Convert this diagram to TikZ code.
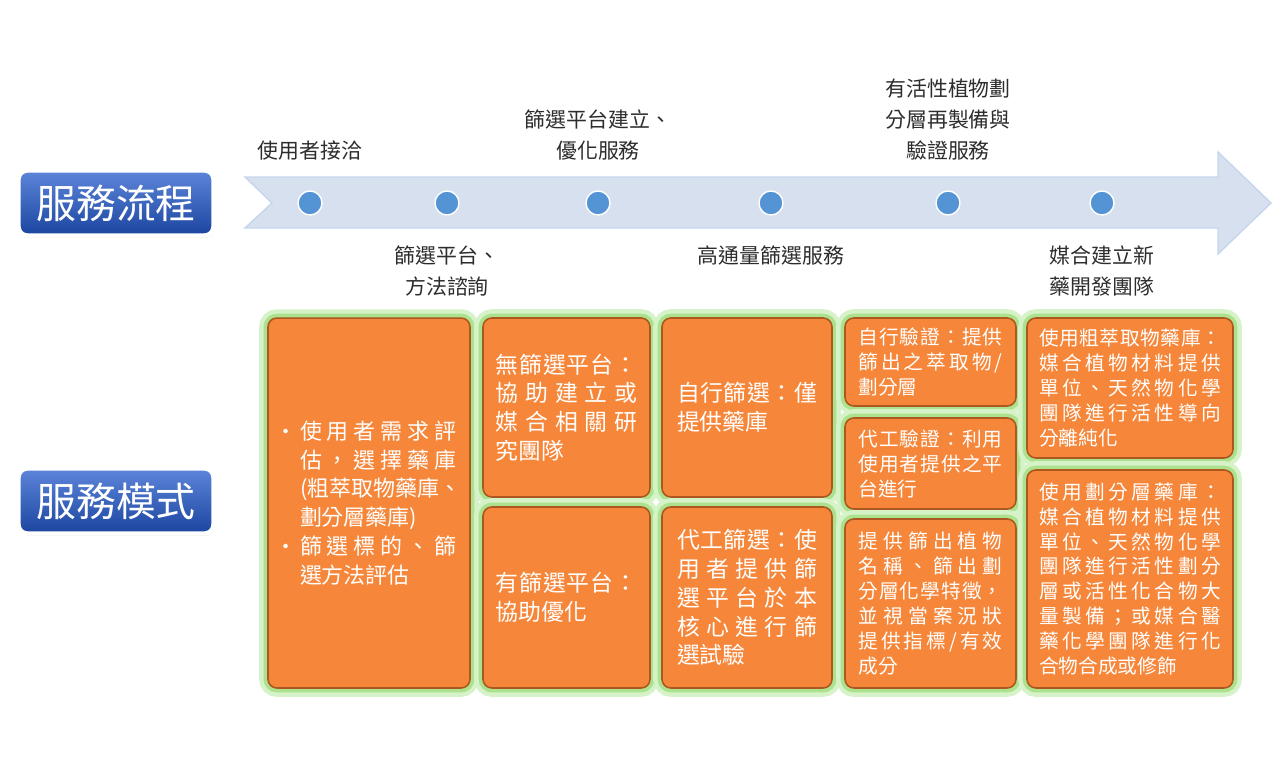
\documentclass[tikz,border=0pt]{standalone}
\usepackage{fontspec}
\setmainfont{Noto Sans CJK TC}
\usetikzlibrary{positioning, shadows}
\definecolor{labeltop}{RGB}{92,134,218}
\definecolor{labelbot}{RGB}{28,68,160}
\definecolor{arrowfill}{RGB}{214,224,239}
\definecolor{arrowedge}{RGB}{198,213,236}
\definecolor{dotblue}{RGB}{84,148,213}
\definecolor{boxorange}{RGB}{246,135,58}
\definecolor{boxedge}{RGB}{172,86,32}
\definecolor{glowgreen}{RGB}{172,226,142}
\definecolor{glowlight}{RGB}{214,242,200}
\definecolor{textgray}{RGB}{45,45,45}
% one line spread over the given width
\def\jstep#1{\ifx\relax#1\else#1\hfil\expandafter\jstep\fi}
\newcommand\jl[2][\hsize]{\leavevmode\hbox to #1{\jstep#2\relax\unskip}}
\newcommand\bul{\makebox[0.36cm][l]{\hspace*{-0.14cm}\large\textbullet}}
\tikzset{
  labelbox/.style = {rectangle, rounded corners=5pt, top color=labeltop, bottom color=labelbot,
                     draw=white, line width=2.5pt, text=white, minimum width=3.9cm,
                     minimum height=1.3cm, font=\fontsize{22.7}{26}\selectfont,
                     drop shadow={opacity=0.3, shadow xshift=0.6pt, shadow yshift=-1.2pt}},
  flowdot/.style  = {circle, fill=dotblue, draw=white, line width=0.8pt,
                     minimum size=0.48cm, inner sep=0pt},
  flowtext/.style = {align=center, inner sep=0pt, text=textgray,
                     font=\fontsize{11.9}{17.6}\selectfont},
  modebox/.style  = {rectangle, rounded corners=5pt, fill=boxorange, draw=boxedge,
                     line width=0.9pt, text=white, inner sep=0pt, align=left,
                     preaction={draw=glowlight, line width=10pt},
                     preaction={draw=glowgreen, line width=5pt}},
  bigtxt/.style   = {font=\fontsize{13}{16.4}\selectfont},
  smalltxt/.style = {font=\fontsize{11.2}{14.2}\selectfont}
}
\begin{document}
\begin{tikzpicture}[x=0.02cm, y=-0.02cm, node distance=0.6cm]
\useasboundingbox (0,0) rectangle (1281,758);
% process arrow
\path[fill=arrowfill, draw=arrowedge, line width=0.8pt]
  (245,177) -- (1218,177) -- (1218,152) -- (1271,203) -- (1218,254)
  -- (1218,228) -- (245,228) -- (272,203) -- cycle;

\node[labelbox] (flow) at (116,203) {服務流程};
\node[labelbox] (mode) at (116,501) {服務模式};

\node[flowdot] (d1) at (310,203) {};
\node[flowdot] (d2) at (447,203) {};
\node[flowdot] (d3) at (598,203) {};
\node[flowdot] (d4) at (771,203) {};
\node[flowdot] (d5) at (948,203) {};
\node[flowdot] (d6) at (1102,203) {};

\node[flowtext, above=of d1] (s1) {使用者接洽};
\node[flowtext, below=of d2] (s2) {篩選平台、\\方法諮詢};
\node[flowtext, above=of d3] (s3) {篩選平台建立、\\優化服務};
\node[flowtext, below=of d4] (s4) {高通量篩選服務};
\node[flowtext, above=of d5] (s5) {有活性植物劃\\分層再製備與\\驗證服務};
\node[flowtext, below=of d6] (s6) {媒合建立新\\藥開發團隊};

% service modes
\node[modebox, font=\fontsize{12.5}{16.4}\selectfont, text width=3.48cm,
      minimum width=4.04cm, minimum height=7.4cm] (m1) at (369,503) {%
  \bul\jl[3.12cm]{使用者需求評}\\
  \hspace*{0.36cm}\jl[3.12cm]{估，選擇藥庫}\\
  \hspace*{0.36cm}(粗萃取物藥庫、\\
  \hspace*{0.36cm}劃分層藥庫)\\
  \bul\jl[3.12cm]{篩選標的、篩}\\
  \hspace*{0.36cm}選方法評估};

\node[modebox, bigtxt, text width=2.84cm, minimum width=3.34cm,
      minimum height=3.58cm] (m2a) at (566.5,407.5) {%
  \jl{無篩選平台：}\\ \jl{協助建立或}\\ \jl{媒合相關研}\\ 究團隊};
\node[modebox, bigtxt, text width=2.84cm, minimum width=3.34cm,
      minimum height=3.62cm] (m2b) at (566.5,597.5) {%
  \jl{有篩選平台：}\\ 協助優化};

\node[modebox, bigtxt, text width=2.8cm, minimum width=3.4cm,
      minimum height=3.58cm] (m3a) at (747,407.5) {%
  \jl{自行篩選：僅}\\ 提供藥庫};
\node[modebox, bigtxt, text width=2.8cm, minimum width=3.4cm,
      minimum height=3.62cm] (m3b) at (747,597.5) {%
  \jl{代工篩選：使}\\ \jl{用者提供篩}\\ \jl{選平台於本}\\ \jl{核心進行篩}\\ 選試驗};

\node[modebox, smalltxt, text width=2.88cm, minimum width=3.42cm,
      minimum height=1.76cm] (m4a) at (930.5,362) {%
  \jl{自行驗證：提供}\\ \jl{篩出之萃取物/}\\ 劃分層};
\node[modebox, smalltxt, text width=2.88cm, minimum width=3.42cm,
      minimum height=1.82cm] (m4b) at (930.5,463.5) {%
  \jl{代工驗證：利用}\\ \jl{使用者提供之平}\\ 台進行};
\node[modebox, smalltxt, text width=2.88cm, minimum width=3.42cm,
      minimum height=3.38cm] (m4c) at (930.5,603.5) {%
  \jl{提供篩出植物}\\ \jl{名稱、篩出劃}\\ \jl{分層化學特徵，}\\ \jl{並視當案況狀}\\
  \jl{提供指標/有效}\\ 成分};

\node[modebox, smalltxt, text width=3.64cm, minimum width=4.12cm,
      minimum height=2.8cm] (m5a) at (1130,388) {%
  \jl{使用粗萃取物藥庫：}\\ \jl{媒合植物材料提供}\\ \jl{單位、天然物化學}\\
  \jl{團隊進行活性導向}\\ 分離純化};
\node[modebox, smalltxt, text width=3.64cm, minimum width=4.12cm,
      minimum height=4.36cm] (m5b) at (1130,579) {%
  \jl{使用劃分層藥庫：}\\ \jl{媒合植物材料提供}\\ \jl{單位、天然物化學}\\
  \jl{團隊進行活性劃分}\\ \jl{層或活性化合物大}\\ \jl{量製備；或媒合醫}\\
  \jl{藥化學團隊進行化}\\ 合物合成或修飾};
\end{tikzpicture}
\end{document}
